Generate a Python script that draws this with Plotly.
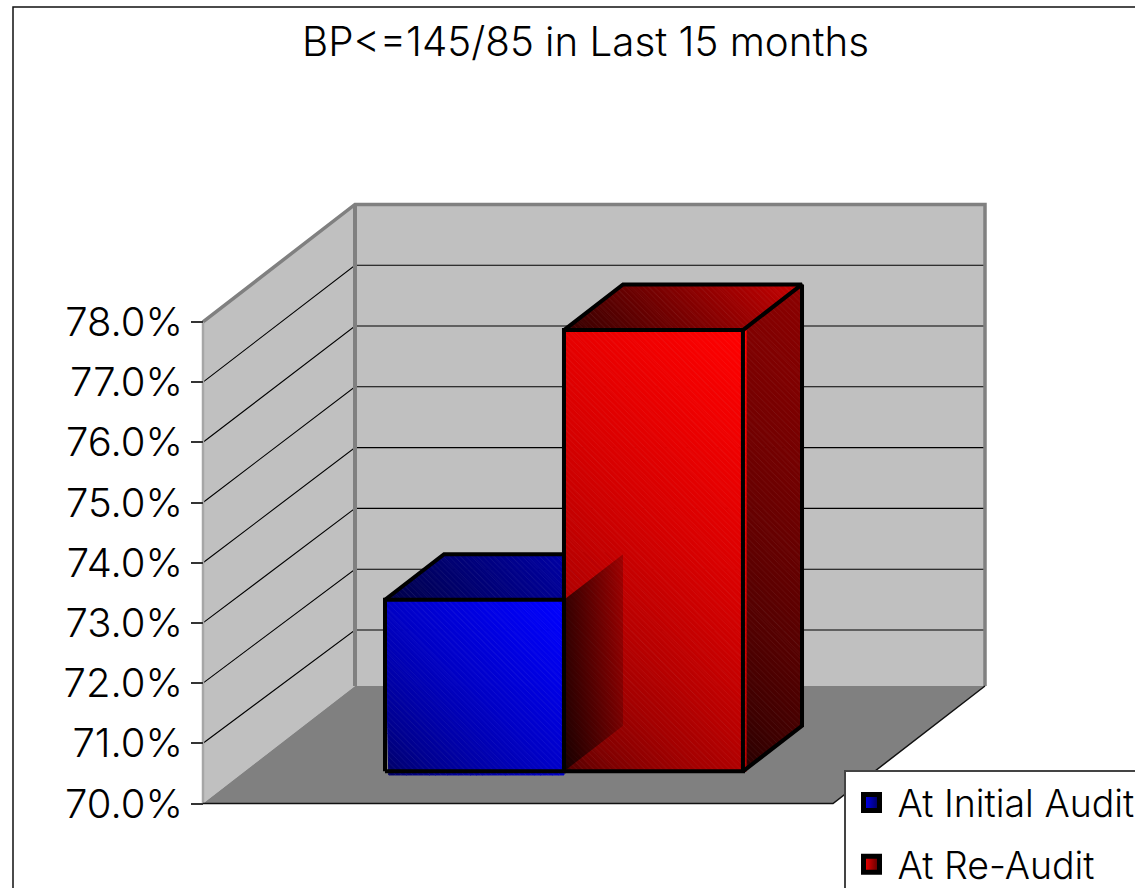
import plotly.graph_objects as go

# ---- data ----
SERIES = ["At Initial Audit", "At Re-Audit"]
VALUES = [72.85, 77.33]
TICK_VALUES = [70, 71, 72, 73, 74, 75, 76, 77, 78]
TICK_LABELS = ["70.0%", "71.0%", "72.0%", "73.0%", "74.0%", "75.0%", "76.0%", "77.0%", "78.0%"]
TITLE = "BP<=145/85 in Last 15 months"

# ---- layout / projection constants ----
W, H = 1300, 1000          # larger than the window: frame and legend run off the page as in the reference
X0_PX, Y70_PX = 203, 803.5
CAT_PX, VAL_PX = 630, 60.2
DEPTH_DX, DEPTH_DY = 152, 117.5
BAR_START, BAR_W = 0.2229, 0.2841
D_FRONT, D_BACK = 0.2735, 0.662
BACK_STRETCH = 60.8 / 60.2   # gridlines spread slightly on the back wall
FONT = "Inter"
WEIGHT = 300
FS = 40

XR = [-X0_PX / CAT_PX, (W - X0_PX) / CAT_PX]
YR = [70 - (H - Y70_PX) / VAL_PX, 70 + Y70_PX / VAL_PX]


def proj(c, v, d):
    """Oblique projection: category position, value, depth -> axis coordinates."""
    return (c + d * DEPTH_DX / CAT_PX, v + d * DEPTH_DY / VAL_PX)


fig = go.Figure()


def poly(points, fill, line=None, lw=0):
    xs = [p[0] for p in points] + [points[0][0]]
    ys = [p[1] for p in points] + [points[0][1]]
    fig.add_trace(go.Scatter(x=xs, y=ys, mode="lines", fill="toself", fillcolor=fill,
                             line=dict(color=line or fill, width=lw), hoverinfo="skip", showlegend=False))


def path(points, color, lw):
    fig.add_trace(go.Scatter(x=[p[0] for p in points], y=[p[1] for p in points], mode="lines",
                             line=dict(color=color, width=lw), hoverinfo="skip", showlegend=False))


def mix(c0, c1, t):
    return "rgb(%d,%d,%d)" % tuple(round(a + (b - a) * t) for a, b in zip(c0, c1))


def clip(points, t_fn, lo, hi):
    def cut(pts, keep):
        out = []
        for i, p in enumerate(pts):
            q = pts[(i + 1) % len(pts)]
            kp, kq = keep(p), keep(q)
            if kp >= 0:
                out.append(p)
            if (kp >= 0) != (kq >= 0):
                s = kp / (kp - kq)
                out.append((p[0] + (q[0] - p[0]) * s, p[1] + (q[1] - p[1]) * s))
        return out
    pts = cut(points, lambda p: t_fn(p) - lo)
    return cut(pts, lambda p: hi - t_fn(p)) if pts else pts


def grad_face(points, c0, c1, gamma=1.0, n=60):
    """Fill a polygon with a lower-left to upper-right gradient made of thin strips."""
    t_fn = lambda p: p[0] * CAT_PX + p[1] * VAL_PX
    ts = [t_fn(p) for p in points]
    lo, hi = min(ts), max(ts)
    for i in range(n):
        a, b = lo + (hi - lo) * i / n, lo + (hi - lo) * (i + 1) / n
        pts = clip(points, t_fn, a, b)
        if len(pts) >= 3:
            col = mix(c0, c1, ((i + .5) / n) ** gamma)
            poly(pts, col, col, 1)
    # fine diagonal texture of the original fill
    xs = [p[0] for p in points] + [points[0][0]]
    ys = [p[1] for p in points] + [points[0][1]]
    fig.add_trace(go.Scatter(x=xs, y=ys, mode="lines", fill="toself", fillcolor="rgba(0,0,0,0)",
                             line=dict(width=0), hoverinfo="skip", showlegend=False,
                             fillpattern=dict(shape="\\", size=4, solidity=0.2,
                                              fgcolor="rgba(255,255,255,0.13)", bgcolor="rgba(0,0,0,0)")))


vmin, vmax = TICK_VALUES[0], TICK_VALUES[-1]

# walls and floor
poly([proj(0, vmin, 0), proj(0, vmin, 1), proj(0, vmax, 1), proj(0, vmax, 0)], "#c0c0c0")
poly([proj(0, vmin, 1), proj(1, vmin, 1), proj(1, vmax, 1), proj(0, vmax, 1)], "#c0c0c0")

# gridlines
for v in TICK_VALUES[1:-1]:
    bv = vmax - (vmax - v) * BACK_STRETCH
    path([proj(0, v, 0), proj(0, bv, 1), proj(1, bv, 1)], "#000000", 1.1)

poly([proj(0, vmin, 0), proj(1, vmin, 0), proj(1, vmin, 1), proj(0, vmin, 1)], "#808080")

# wall edges
path([proj(0, vmin, 1), proj(0, vmax, 1)], "#808080", 4)
path([proj(0, vmax, 0), proj(0, vmax, 1), proj(1, vmax, 1), proj(1, vmin, 1)], "#808080", 3.5)
path([proj(0, vmin, 0), proj(0, vmax, 0)], "#a6a6a6", 2.5)
path([proj(0, vmin, 0), proj(1, vmin, 0), proj(1, vmin, 1)], "#111111", 1.5)

STYLE = [
    dict(front=((0, 0, 90), (0, 0, 255), .6), top=((0, 0, 70), (0, 0, 190), 1), side=((0, 0, 40), (0, 0, 128), 1)),
    dict(front=((20, 0, 0), (255, 0, 0), .33), top=((50, 0, 0), (200, 0, 0), 1), side=((30, 0, 0), (140, 0, 0), .6)),
]
OUT = "#000000"
for i, (val, st) in enumerate(zip(VALUES, STYLE)):
    c0 = BAR_START + i * BAR_W
    c1 = c0 + BAR_W
    fa, fb = D_FRONT, D_BACK
    # the fill sits slightly lower/right than its outline in the original
    spill_v = 0.06 if i == 0 else 0
    spill_c = 0.005 if i == 1 else 0
    top = [proj(c0, val, fa), proj(c1, val, fa), proj(c1, val, fb), proj(c0, val, fb)]
    side = [proj(c1, vmin, fa), proj(c1, vmin, fb), proj(c1, val, fb), proj(c1, val, fa)]
    front = [proj(c0 + .006 * (i == 0), vmin - spill_v, fa), proj(c1 + spill_c, vmin - spill_v, fa),
             proj(c1 + spill_c, val, fa), proj(c0, val, fa)]
    if i == 1:
        grad_face(side, *st["side"])
    grad_face(top, *st["top"])
    grad_face(front, *st["front"])
    if i == 1:
        # the first bar's side face shows through the second bar, darkening it
        c = BAR_START + BAR_W
        v0 = VALUES[0]
        sh = [proj(c, vmin, fa), proj(c, vmin, fb), proj(c, v0, fb), proj(c, v0, fa)]
        fig.add_trace(go.Scatter(
            x=[p[0] for p in sh] + [sh[0][0]], y=[p[1] for p in sh] + [sh[0][1]],
            mode="lines", fill="toself", line=dict(width=0), hoverinfo="skip", showlegend=False,
            fillgradient=dict(type="horizontal",
                              colorscale=[[0, "rgba(0,0,0,0.7)"], [1, "rgba(0,0,0,0.2)"]])))
    lw = 4
    path([proj(c0, vmin, fa), proj(c1, vmin, fa), proj(c1, val, fa), proj(c0, val, fa), proj(c0, vmin, fa)], OUT, lw)
    path([proj(c0, val, fa), proj(c0, val, fb), proj(c1, val, fb), proj(c1, val, fa)], OUT, lw)
    if i == 1:
        path([proj(c1, val, fb), proj(c1, vmin, fb), proj(c1, vmin, fa)], OUT, lw)

# legend entries
for name, bright, dark in zip(SERIES, ["#0000ff", "#ff0000"], ["#000050", "#500000"]):
    fig.add_trace(go.Scatter(x=[None], y=[None], mode="markers", name=name, legendgroup=name,
                             marker=dict(symbol="square", size=22, color=bright,
                                         gradient=dict(type="horizontal", color=dark),
                                         line=dict(color="#000000", width=5))))

font = dict(family=FONT, size=FS, color="#000000", weight=WEIGHT)
fig.update_layout(
    width=W, height=H, autosize=False,
    margin=dict(l=0, r=0, t=0, b=0, pad=0),
    paper_bgcolor="#ffffff", plot_bgcolor="rgba(0,0,0,0)",
    font=font,
    title=dict(text=TITLE, x=585.5 / W, xanchor="center", xref="paper",
               y=1 - 42 / H, yanchor="middle", yref="container", font=dict(font, size=40.3)),
    xaxis=dict(range=XR, visible=False, fixedrange=True),
    yaxis=dict(range=YR, tickmode="array", tickvals=TICK_VALUES, ticktext=TICK_LABELS,
               anchor="free", position=X0_PX / W, showgrid=False, zeroline=False, showline=False,
               ticks="outside", ticklen=12, tickwidth=1.5, tickcolor="#333333", fixedrange=True,
               tickfont=font),
    legend=dict(x=844 / W, y=1 - 770 / H, xanchor="left", yanchor="top", bgcolor="#ffffff",
                bordercolor="#444444", borderwidth=1.5, tracegroupgap=10, itemsizing="trace", itemwidth=42,
                font=dict(font, size=37.5)),
    shapes=[dict(type="rect", xref="paper", yref="paper", x0=13 / W, x1=1.2, y0=-0.2, y1=1 - 7 / H,
                 line=dict(color="#111111", width=1.5), layer="below")],
)

fig.write_html("out.html", config={"displayModeBar": False},
               post_script="document.documentElement.style.overflow='hidden';document.body.style.overflow='hidden';document.body.style.margin='0';")
